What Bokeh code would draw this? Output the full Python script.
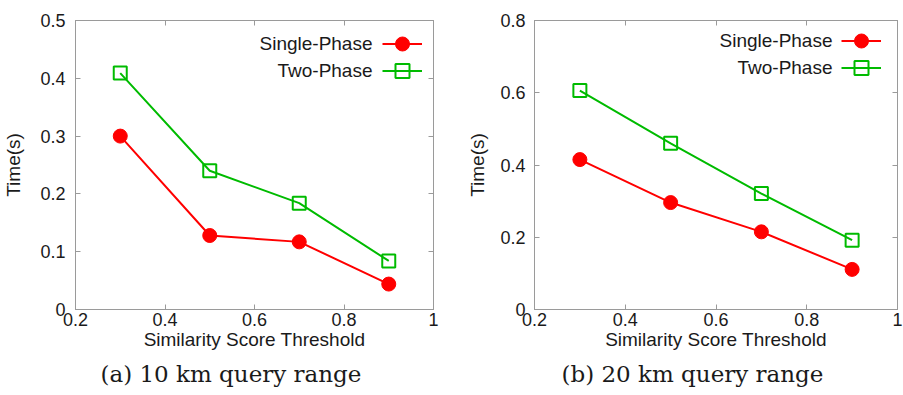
from bokeh.plotting import figure
from bokeh.models import Range1d, FixedTicker, LinearAxis, Legend, LegendItem, Title, Label
from bokeh.layouts import row
from bokeh.embed import file_html
from bokeh.resources import INLINE

# ---- data ----
thresholds = [0.3, 0.5, 0.7, 0.9]
single_10km = [0.300, 0.128, 0.117, 0.044]
two_10km = [0.409, 0.240, 0.184, 0.084]
single_20km = [0.415, 0.296, 0.215, 0.111]
two_20km = [0.606, 0.460, 0.321, 0.192]

x_ticks = [0.2, 0.4, 0.6, 0.8, 1.0]
x_tick_labels = ["0.2", "0.4", "0.6", "0.8", "1"]
y_ticks_10 = [0, 0.1, 0.2, 0.3, 0.4, 0.5]
y_tick_labels_10 = ["0", "0.1", "0.2", "0.3", "0.4", "0.5"]
y_ticks_20 = [0, 0.2, 0.4, 0.6, 0.8]
y_tick_labels_20 = ["0", "0.2", "0.4", "0.6", "0.8"]

series_names = ["Single-Phase", "Two-Phase"]
captions = ["(a) 10 km query range", "(b) 20 km query range"]

RED = "#ff0000"
GREEN = "#00bb00"
FRAME = "#9a9a9a"
TXT = "#1a1a1a"
SANS = "Liberation Sans"
SERIF = "DejaVu Serif"


def make_panel(single, two, yticks, ylabels, ymax, width, bl, br, ystand, ylab_stand,
               caption, cap_offset, leg_x, leg_ys, lab_x, lab_ys):
    p = figure(width=width, height=395, output_backend="svg", toolbar_location=None,
               x_range=Range1d(0.2, 1.0), y_range=Range1d(0, ymax),
               min_border_left=bl, min_border_right=br, min_border_top=20, min_border_bottom=86)
    p.grid.visible = False
    p.outline_line_color = FRAME

    for ax, ticks, labels in ((p.xaxis[0], x_ticks, x_tick_labels), (p.yaxis[0], yticks, ylabels)):
        ax.ticker = FixedTicker(ticks=ticks)
        ax.major_label_overrides = {t: l for t, l in zip(ticks, labels)}
        ax.major_tick_in = 5
        ax.major_tick_out = 0
        ax.minor_tick_line_color = None
        ax.axis_line_color = FRAME
        ax.major_tick_line_color = FRAME
        ax.major_label_text_font = SANS
        ax.major_label_text_font_size = "18px"
        ax.major_label_text_color = TXT
        ax.axis_label_text_font = SANS
        ax.axis_label_text_font_size = "19px"
        ax.axis_label_text_font_style = "normal"
        ax.axis_label_text_color = TXT

    p.xaxis[0].axis_label = "Similarity Score Threshold"
    p.xaxis[0].major_label_standoff = 3
    p.xaxis[0].axis_label_standoff = 0
    p.yaxis[0].axis_label = "Time(s)"
    p.yaxis[0].major_label_standoff = ystand
    p.yaxis[0].axis_label_standoff = ylab_stand

    # mirrored ticks on top and right (no labels)
    for side, ticks in (("above", x_ticks), ("right", yticks)):
        ax = LinearAxis(ticker=FixedTicker(ticks=ticks),
                        major_label_overrides={t: "" for t in ticks},
                        major_tick_in=5, major_tick_out=0, minor_tick_line_color=None,
                        axis_line_color=FRAME, major_tick_line_color=FRAME, major_label_standoff=0)
        p.add_layout(ax, side)

    r1 = p.line(thresholds, single, line_color=RED, line_width=2)
    m1 = p.scatter(thresholds, single, marker="circle", size=14, fill_color=RED, line_color=RED)
    r2 = p.line(thresholds, two, line_color=GREEN, line_width=2)
    m2 = p.scatter(thresholds, two, marker="square", size=13, fill_color=None,
                   line_color=GREEN, line_width=2)

    # gnuplot-style key: text right-aligned, sample to its right
    for renderers, ly, name, ty in ((
            [r1, m1], leg_ys[0], series_names[0], lab_ys[0]),
            ([r2, m2], leg_ys[1], series_names[1], lab_ys[1])):
        legend = Legend(items=[LegendItem(label=" ", renderers=renderers)],
                        location=(leg_x, ly), glyph_width=40, glyph_height=35,
                        padding=0, margin=0, label_standoff=0, label_width=0,
                        label_text_font_size="1px",
                        border_line_color=None, background_fill_alpha=0)
        p.add_layout(legend)
        p.add_layout(Label(x=lab_x, y=ty, x_units="screen", y_units="screen", text=name,
                           text_align="right", text_baseline="middle", text_font=SANS,
                           text_font_size="19px", text_color=TXT))

    p.add_layout(Title(text=caption, align="left", offset=cap_offset, text_font=SERIF,
                       text_font_size="23px", text_font_style="normal", text_color=TXT,
                       standoff=12), "below")
    return p


p1 = make_panel(single_10km, two_10km, y_ticks_10, y_tick_labels_10, 0.5,
                451, 72, 18, 10, 13, captions[0], 25, 307, (248, 221), 297, (266, 239))
p2 = make_panel(single_20km, two_20km, y_ticks_20, y_tick_labels_20, 0.8,
                452, 83, 6, 9, 9, captions[1], 27, 307, (251, 224), 298, (269, 242))

layout = row(p1, p2)
open("out.html", "w").write(file_html(layout, INLINE))
